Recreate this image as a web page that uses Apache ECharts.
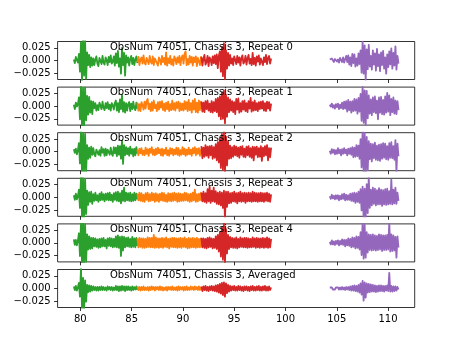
<!DOCTYPE html>
<html><head><meta charset="utf-8">
<script src="https://cdn.jsdelivr.net/npm/echarts@6/dist/echarts.min.js"></script>
<style>html,body{margin:0;padding:0;background:#fff}#c{width:461px;height:346px}</style>
</head><body><div id="c"></div>
<script>
// ---- data ----
const titles = ["ObsNum 74051, Chassis 3, Repeat 0","ObsNum 74051, Chassis 3, Repeat 1","ObsNum 74051, Chassis 3, Repeat 2","ObsNum 74051, Chassis 3, Repeat 3","ObsNum 74051, Chassis 3, Repeat 4","ObsNum 74051, Chassis 3, Averaged"];
const xTicks = [80,85,90,95,100,105,110];
const yTicks = [-0.025,0,0.025];
const STEP = 0.1;
const GX0 = 79.36, OX0 = 85.56, RX0 = 91.8, PX0 = 104.32;

const g0=[.002,-.005,.007,.001,-.004,.013,-.022,.036,-.041,.044,-.03,.039,-.036,.016,-.009,.011,-.013,.006,-.01,.004,-.009,.002,.008,-.006,-.011,.005,.003,-.007,.009,-.004,-.008,.006,.001,-.009,.007,-.003,.01,-.006,-.002,.008,-.01,.014,-.005,.019,-.012,.004,-.026,.025,-.009,.015,-.03,.01,-.004,.006,-.01,.003,.009,-.007,.005,-.009,.002,.008,-.005];
const o0=[-.003,.007,-.009,.002,.006,-.006,.01,-.004,-.008,.005,.003,-.007,.009,-.002,-.006,.008,-.009,.004,.007,-.005,-.01,.006,.001,-.008,.009,-.003,.005,-.008,.016,-.01,.004,-.005,.009,-.008,.002,-.01,.008,.003,-.007,.006,-.004,.009,-.009,.005,.01,-.006,.013,.018,-.009,.003,-.008,.009,-.004,.007,-.01,.006,-.003,.008,-.011,.005,.002,-.009,.007,-.004];
const r0=[.007,-.01,.004,.011,-.008,-.003,.009,-.011,.006,.002,-.009,.008,-.005,.01,-.007,.012,-.015,.009,.018,-.022,.027,-.031,.034,-.037,.02,-.016,.015,-.01,.011,-.006,.004,-.009,.008,.002,-.007,.009,-.004,.006,-.01,.005,.01,-.006,-.002,.009,-.008,.004,.011,-.006,.003,-.009,.015,-.007,.005,-.01,.008,-.002,.01,-.008,.004,.007,-.009,.006,-.003,.011,-.007,.005,.009,-.006,.004];
const p0=[.002,-.001,.004,.001,-.003,.003,.005,-.002,.002,-.004,.005,.001,-.003,.006,-.004,-.007,.009,-.003,.01,-.008,.006,-.011,.013,-.005,.012,-.012,.004,-.01,.014,-.007,.02,-.024,.037,-.026,.03,-.038,.022,-.017,.031,-.012,.009,-.018,.02,-.008,.014,-.02,.023,-.011,.012,-.021,.016,-.009,.019,-.016,.006,-.026,.012,-.013,.018,-.008,.024,-.016,.015,-.01,.028,-.018,.009,-.006];

const g1=[.003,-.006,.007,-.001,.004,.017,-.026,.039,-.041,.036,-.043,.037,-.028,.02,-.017,.018,-.013,.01,-.016,.009,-.004,.006,-.009,.002,-.008,.007,.001,-.006,.009,-.003,-.008,.006,-.004,.008,-.006,.003,-.009,.006,.002,-.007,.006,.011,-.009,.006,-.012,.013,-.006,.022,-.011,.008,-.013,.006,-.009,.004,.008,-.01,.005,-.006,.009,-.004,-.008,.007,-.005];
const o1=[.007,-.009,.004,-.01,.008,.002,-.007,.009,-.005,.01,.014,-.006,.005,-.01,.008,-.009,.011,-.004,.003,-.01,.008,-.007,.009,-.003,.01,-.008,.005,-.01,.007,-.006,.009,-.01,.004,-.008,.011,-.007,.006,-.009,.008,-.004,.009,-.01,.006,-.008,.005,-.009,.01,-.006,.008,-.01,.012,-.008,.006,-.013,.011,-.007,.014,-.012,.007,-.013,.011,-.008,.009,-.006];
const r1=[.009,-.011,.007,-.012,.01,-.006,.011,-.009,.005,-.012,.01,-.013,.008,-.01,.014,-.012,.016,-.02,.019,-.026,.027,-.025,.031,-.034,.022,-.021,.017,-.012,.013,-.009,.01,-.012,.008,-.016,.014,-.007,.015,-.013,.006,-.011,.01,-.007,.011,-.01,.006,-.012,.01,-.005,.016,-.011,.008,-.009,.011,-.008,.006,-.01,.008,-.006,.009,-.005,.01,-.009,.006,-.01,.009,-.005,.008,-.009,.005];
const p1=[.003,-.001,.005,-.003,.002,-.005,.004,-.002,.005,-.006,.003,-.004,.007,-.006,.009,-.005,.01,-.011,.012,-.008,.009,-.013,.01,-.01,.014,-.009,.013,-.015,.016,-.011,.024,-.029,.039,-.033,.031,-.039,.03,-.024,.021,-.015,.013,-.018,.017,-.012,.019,-.014,.011,-.026,.017,-.013,.018,-.016,.012,-.017,.019,-.013,.026,-.011,.021,-.018,.014,-.012,.017,-.015,.011,-.016,.01,-.008];

const g2=[.005,-.002,.006,-.005,.003,.017,-.023,.041,-.043,.038,-.041,.035,-.039,.013,-.014,.008,-.012,.01,-.006,.007,-.005,-.009,.004,.007,-.006,.003,-.008,.009,-.002,.005,-.008,.006,-.007,.004,.002,-.006,.008,-.004,-.008,.009,-.003,.008,-.009,.012,-.006,.011,-.014,.022,-.024,.013,-.007,.009,-.005,.007,-.008,.01,-.004,.005,-.009,.006,-.007,.009,-.004];
const o2=[.004,-.007,.006,-.003,.007,-.006,.002,-.007,.008,-.004,.005,-.008,.006,-.002,.009,-.006,.004,-.007,.006,-.005,.008,-.003,.005,-.007,.006,-.008,.004,-.004,.008,-.007,.003,-.008,.007,-.004,.006,-.007,.004,-.005,.008,-.006,.007,-.008,.003,-.006,.009,-.005,.006,-.008,.004,-.006,.008,-.005,.004,-.008,.007,-.003,.009,-.007,.006,-.004,.007,-.008,.004,-.005];
const r2=[.011,-.013,.008,-.01,.013,-.008,.01,-.012,.011,-.007,.012,-.014,.009,-.012,.015,-.017,.019,-.021,.027,-.032,.035,-.036,.041,-.041,.029,-.027,.02,-.014,.012,-.013,.009,-.01,.012,-.007,.01,-.009,.008,-.012,.01,-.006,.011,-.01,.006,-.011,.01,-.007,.011,-.01,.007,-.012,.01,-.017,.009,-.006,.01,-.011,.007,-.01,.011,-.018,.008,-.009,.011,-.007,.013,-.017,.007,-.011,.008];
const p2=[.002,-.004,.005,-.002,.004,-.005,.003,-.004,.007,-.003,.004,-.007,.005,-.004,.007,-.003,.004,-.007,.006,-.004,.007,-.006,.009,-.011,.008,-.01,.013,-.009,.012,-.014,.025,-.031,.041,-.041,.037,-.041,.029,-.037,.021,-.015,.016,-.019,.015,-.013,.018,-.016,.012,-.017,.014,-.018,.015,-.014,.017,-.012,.016,-.015,.011,-.016,.017,-.012,.019,-.013,.011,-.016,.023,-.041,.016,-.009];

const g3=[.004,-.005,.007,-.004,.003,.015,-.021,.041,-.041,.039,-.043,.037,-.033,.013,-.015,.01,-.009,.011,-.013,.006,-.007,.009,-.006,.004,-.009,.007,-.006,.01,-.005,.006,-.008,.007,-.005,.008,-.006,.009,-.006,.005,-.009,.008,-.005,.01,-.007,.011,-.008,.008,-.012,.013,-.007,.019,-.008,.009,-.006,.008,-.007,.009,-.008,.006,-.007,.009,-.006,.007,-.004];
const o3=[.007,-.006,.009,-.007,.008,-.008,.005,-.009,.008,-.005,.009,-.008,.006,-.007,.009,-.006,.007,-.009,.008,-.007,.006,-.009,.007,-.006,.009,-.007,.008,-.008,.005,-.009,.008,-.007,.007,-.008,.008,-.007,.009,-.006,.007,-.009,.008,-.008,.007,-.007,.006,-.007,.009,-.006,.008,-.007,.006,-.009,.007,-.008,.009,-.006,.015,-.009,.006,-.008,.007,-.006,.009,-.007];
const r3=[.009,-.008,.011,-.009,.008,-.011,.016,-.008,.021,-.011,.013,-.008,.019,-.009,.012,-.013,.009,-.014,.011,-.016,.009,-.021,.013,-.041,.011,-.019,.011,-.012,.008,-.011,.009,-.008,.011,-.009,.008,-.012,.009,-.008,.011,-.009,.008,-.008,.009,-.011,.008,-.008,.009,-.008,.008,-.009,.011,-.008,.009,-.008,.008,-.009,.008,-.008,.009,-.008,.008,-.009,.008,-.007,.009,-.008,.007,-.009,.006];
const p3=[.002,-.003,.005,-.002,.003,-.004,.004,-.003,.004,-.006,.003,-.004,.006,-.003,.007,-.006,.005,-.005,.004,-.005,.007,-.007,.008,-.008,.009,-.011,.008,-.009,.011,-.011,.016,-.026,.021,-.041,.017,-.041,.026,-.031,.041,-.021,.015,-.016,.019,-.013,.017,-.016,.014,-.014,.018,-.014,.015,-.017,.014,-.014,.016,-.015,.017,-.014,.012,-.013,.035,-.014,.015,-.012,.019,-.013,.009,-.007];

const g4=[.007,-.004,.006,-.005,.005,.019,-.026,.041,-.041,.043,-.041,.037,-.037,.017,-.013,.013,-.012,.01,-.011,.01,-.007,.009,-.008,.007,-.01,.008,-.009,.009,-.007,.01,-.007,.006,-.011,.009,-.006,.01,-.007,.009,-.009,.008,-.008,.013,-.009,.015,-.01,.012,-.026,.013,-.015,.012,-.009,.01,-.007,.011,-.008,.008,-.009,.012,-.008,.009,-.009,.01,-.006];
const o4=[.009,-.009,.01,-.008,.009,-.01,.009,-.01,.008,-.009,.011,-.008,.01,-.009,.01,-.009,.016,-.01,.011,-.009,.009,-.01,.009,-.009,.01,-.01,.009,-.008,.011,-.009,.008,-.011,.009,-.008,.01,-.009,.01,-.009,.009,-.01,.009,-.009,.01,-.01,.009,-.008,.011,-.009,.008,-.011,.01,-.01,.009,-.009,.01,-.009,.009,-.01,.01,-.009,.008,-.009,.009,-.008];
const r4=[.01,-.009,.009,-.01,.008,-.011,.01,-.009,.011,-.008,.009,-.011,.008,-.01,.013,-.012,.016,-.017,.021,-.027,.031,-.033,.041,-.041,.027,-.021,.016,-.012,.012,-.009,.01,-.01,.009,-.01,.011,-.011,.008,-.009,.011,-.008,.009,-.009,.01,-.009,.01,-.01,.009,-.009,.008,-.009,.011,-.008,.009,-.01,.01,-.009,.009,-.01,.009,-.009,.01,-.01,.009,-.009,.011,-.01,.009,-.009,.008];
const p4=[.002,-.003,.005,-.003,.003,-.004,.004,-.002,.005,-.005,.004,-.003,.007,-.004,.006,-.007,.006,-.005,.009,-.006,.008,-.009,.011,-.008,.01,-.011,.013,-.01,.012,-.013,.021,-.024,.041,-.031,.036,-.029,.021,-.019,.017,-.014,.016,-.015,.017,-.014,.015,-.015,.014,-.014,.017,-.013,.016,-.016,.015,-.014,.015,-.014,.016,-.013,.041,-.017,.017,-.016,.015,-.015,.012,-.029,.013,-.009];

const g5=[.004,-.003,.005,-.004,.003,.011,-.016,.041,-.039,.021,-.043,.016,-.026,.007,-.007,.006,-.006,.005,-.004,.004,-.003,.003,-.004,.003,-.004,.003,-.003,.004,-.003,.003,-.003,.002,-.004,.004,-.002,.003,-.003,.003,-.004,.002,-.003,.005,-.003,.004,-.005,.004,-.004,.005,-.003,.004,-.005,.004,-.003,.004,-.003,.003,-.004,.004,-.003,.003,-.002,.004,-.003];
const o5=[.004,-.003,.003,-.004,.003,-.003,.004,-.003,.002,-.003,.003,-.004,.003,-.003,.004,-.002,.003,-.004,.003,-.002,.003,-.003,.004,-.003,.003,-.004,.002,-.003,.003,-.004,.003,-.002,.003,-.003,.004,-.003,.002,-.003,.003,-.004,.004,-.003,.003,-.002,.003,-.004,.003,-.003,.004,-.003,.002,-.003,.004,-.002,.003,-.003,.004,-.002,.003,-.003,.004,-.003,.002,-.003];
const r5=[.004,-.005,.004,-.003,.005,-.004,.003,-.005,.004,-.003,.005,-.004,.004,-.005,.006,-.006,.007,-.008,.009,-.01,.011,-.013,.012,-.016,.01,-.009,.007,-.006,.005,-.004,.004,-.003,.005,-.004,.003,-.004,.005,-.003,.004,-.004,.003,-.005,.004,-.003,.004,-.004,.003,-.005,.004,-.003,.005,-.004,.003,-.004,.004,-.003,.005,-.004,.003,-.004,.004,-.003,.005,-.004,.003,-.004,.004,-.003,.002];
const p5=[.002,-.001,.002,-.002,.001,-.002,.002,-.001,.002,-.002,.002,-.002,.003,-.002,.002,-.003,.003,-.002,.003,-.003,.004,-.004,.005,-.004,.006,-.005,.005,-.006,.007,-.008,.01,-.012,.015,-.024,.012,-.018,.01,-.008,.009,-.007,.008,-.006,.007,-.006,.006,-.007,.005,-.006,.006,-.005,.006,-.005,.005,-.006,.005,-.004,.006,-.005,.031,-.006,.005,-.006,.004,-.005,.004,-.004,.003,-.002];

const panels = [[g0,o0,r0,p0],[g1,o1,r1,p1],[g2,o2,r2,p2],[g3,o3,r3,p3],[g4,o4,r4,p4],[g5,o5,r5,p5]];

// ---- layout / style ----
const colors = ['#2ca02c','#ff7f0e','#d62728','#9467bd'];
const starts = [GX0, OX0, RX0, PX0];
const L = 57.6, W = 357.1, T0 = 41.5, H = 38, DY = 45.6;
const XMIN = 77.78, XMAX = 112.6, YMIN = -0.0375, YMAX = 0.0375;
const FONT = 'DejaVu Sans';
const fmtY = v => (v < 0 ? '\u2212' : '') + Math.abs(v).toFixed(3);

const grid = [], xAxis = [], yAxis = [], series = [], graphic = [];
panels.forEach((arrs, i) => {
  const top = T0 + DY * i;
  grid.push({left: L, top: top, width: W, height: H, show: true, borderColor: '#000', borderWidth: 0.8, backgroundColor: 'transparent', containLabel: false});
  xAxis.push({
    type: 'value', gridIndex: i, min: XMIN, max: XMAX, position: 'bottom',
    axisLine: {show: false, onZero: false}, splitLine: {show: false},
    axisTick: {show: true, customValues: xTicks, length: 3.5, inside: false, lineStyle: {color: '#000', width: 0.8}},
    axisLabel: {show: i === 5, customValues: xTicks, margin: 7, color: '#000', fontFamily: FONT, fontSize: 10}
  });
  yAxis.push({
    type: 'value', gridIndex: i, min: YMIN, max: YMAX, position: 'left',
    axisLine: {show: false, onZero: false}, splitLine: {show: false},
    axisTick: {show: true, customValues: yTicks, length: 3.5, inside: false, lineStyle: {color: '#000', width: 0.8}},
    axisLabel: {show: true, customValues: yTicks, margin: 7, color: '#000', fontFamily: FONT, fontSize: 10, formatter: fmtY}
  });
  arrs.forEach((vals, k) => {
    series.push({
      type: 'line', xAxisIndex: i, yAxisIndex: i, showSymbol: false, symbol: 'none',
      clip: true, animation: false, silent: true,
      lineStyle: {color: colors[k], width: 1.8, join: 'round'},
      data: vals.map((v, j) => [starts[k] + j * STEP, v])
    });
  });
  graphic.push({type: 'text', left: 110, top: top + 0.5, z: 100,
    style: {text: titles[i], fill: '#000', font: '10px "' + FONT + '"'}});
});

const chart = echarts.init(document.getElementById('c'), null, {renderer: 'canvas'});
chart.setOption({animation: false, grid, xAxis, yAxis, series, graphic});
</script>
</body></html>
